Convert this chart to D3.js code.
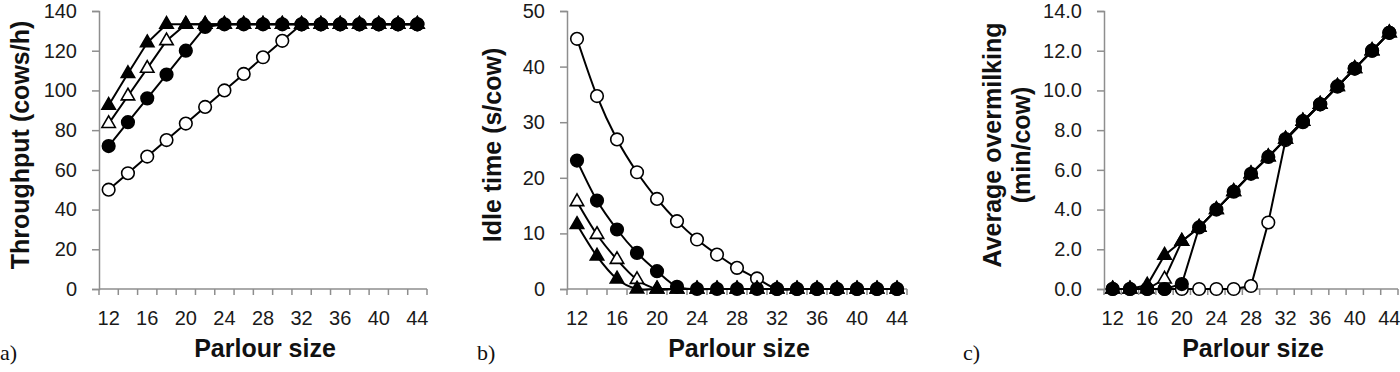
<!DOCTYPE html>
<html>
<head>
<meta charset="utf-8">
<script src="https://cdn.jsdelivr.net/npm/d3@7"></script>
<style>
  body { margin: 0; background: #fff; }
  svg { display: block; }
  .tick text { font-family: "Liberation Sans", Arial, sans-serif; font-size: 20px; fill: #1a1a1a; }
  .axis-title { font-family: "Liberation Sans", Arial, sans-serif; font-weight: bold; font-size: 25px; fill: #111; }
  .panel-tag { font-family: "Liberation Serif", "Times New Roman", serif; font-size: 22px; fill: #111; }
</style>
</head>
<body>
<div id="chart"></div>
<script>
// parlour sizes (categories)
const sizes = [12, 14, 16, 18, 20, 22, 24, 26, 28, 30, 32, 34, 36, 38, 40, 42, 44];
const sizeLabels = [12, 16, 20, 24, 28, 32, 36, 40, 44];

// a) throughput (cows/h)
const thrOpenCircle = [50, 58.3, 66.7, 75, 83.3, 91.7, 100, 108.3, 116.7, 125, 133.3, 133.3, 133.3, 133.3, 133.3, 133.3, 133.3];
const thrOpenTri    = [83.3, 97.2, 111.1, 125, 133.3, 133.3, 133.3, 133.3, 133.3, 133.3, 133.3, 133.3, 133.3, 133.3, 133.3, 133.3, 133.3];
const thrFilledTri  = [92.5, 108.5, 124, 133.3, 133.3, 133.3, 133.3, 133.3, 133.3, 133.3, 133.3, 133.3, 133.3, 133.3, 133.3, 133.3, 133.3];
const thrFilledCirc = [72, 84, 96, 108, 120, 132, 133.3, 133.3, 133.3, 133.3, 133.3, 133.3, 133.3, 133.3, 133.3, 133.3, 133.3];

// b) idle time (s/cow)
const idleOpenCircle = [45, 34.7, 26.9, 21, 16.2, 12.2, 8.9, 6.2, 3.8, 1.9, 0, 0, 0, 0, 0, 0, 0];
const idleOpenTri    = [15.7, 9.8, 5.3, 1.7, 0, 0, 0, 0, 0, 0, 0, 0, 0, 0, 0, 0, 0];
const idleFilledTri  = [11.6, 5.9, 1.8, 0, 0, 0, 0, 0, 0, 0, 0, 0, 0, 0, 0, 0, 0];
const idleFilledCirc = [23.1, 15.9, 10.7, 6.5, 3.2, 0.4, 0, 0, 0, 0, 0, 0, 0, 0, 0, 0, 0];

// c) average overmilking (min/cow)
const overOpenCircle = [0, 0, 0, 0, 0, 0, 0, 0, 0.15, 3.35, 7.5, 8.4, 9.3, 10.2, 11.1, 12.0, 12.9];
const overOpenTri    = [0, 0, 0, 0.5, 2.4, 3.1, 4.0, 4.9, 5.8, 6.65, 7.55, 8.45, 9.3, 10.2, 11.1, 12.0, 12.9];
const overFilledTri  = [0, 0, 0.2, 1.7, 2.4, 3.1, 4.0, 4.9, 5.8, 6.65, 7.55, 8.45, 9.3, 10.2, 11.1, 12.0, 12.9];
const overFilledCirc = [0, 0, 0, 0, 0.25, 3.1, 4.0, 4.9, 5.8, 6.65, 7.55, 8.45, 9.3, 10.2, 11.1, 12.0, 12.9];

const yTicksA = [0, 20, 40, 60, 80, 100, 120, 140];
const yTicksB = [0, 10, 20, 30, 40, 50];
const yTicksC = [0, 2, 4, 6, 8, 10, 12, 14];

const W = 1400, H = 372;
const svg = d3.select('#chart').append('svg').attr('width', W).attr('height', H);

const AXIS = '#8e8e8e';

function drawPanel(p) {
  const g = svg.append('g');
  const x = d3.scaleBand().domain(sizes).range([p.x0, p.x1]).padding(0);
  const y = d3.scaleLinear().domain([0, p.ymax]).range([p.y1, p.y0]);

  // y axis
  const ya = g.append('g').attr('transform', `translate(${p.x0},0)`)
    .call(d3.axisLeft(y).tickValues(p.yTicks).tickSize(7).tickPadding(15).tickFormat(p.fmt));
  ya.selectAll('path, line').attr('stroke', AXIS).attr('stroke-width', 1.5);

  // x axis: boundary ticks between categories, labels every other category
  const edges = sizes.map(s => x(s)).concat([x(sizes[sizes.length - 1]) + x.step()]);
  g.append('line').attr('x1', p.x0).attr('x2', p.x1).attr('y1', p.y1).attr('y2', p.y1)
    .attr('stroke', AXIS).attr('stroke-width', 1.5);
  g.selectAll('.edge').data(edges).join('line').attr('class', 'edge')
    .attr('x1', d => d).attr('x2', d => d).attr('y1', p.y1).attr('y2', p.y1 + 6)
    .attr('stroke', AXIS).attr('stroke-width', 1.5);
  const xa = g.append('g').attr('transform', `translate(0,${p.y1})`)
    .call(d3.axisBottom(x).tickValues(sizeLabels).tickSize(0).tickPadding(22));
  xa.select('.domain').remove();

  // titles
  g.append('text').attr('class', 'axis-title').attr('text-anchor', 'middle')
    .attr('x', (p.x0 + p.x1) / 2 + 2).attr('y', 357).text('Parlour size');
  p.ytitle.forEach((t, i) => {
    g.append('text').attr('class', 'axis-title').attr('text-anchor', 'middle')
      .attr('transform', `translate(${p.ytx[i]},${p.yty}) rotate(-90)`).text(t);
  });
  g.append('text').attr('class', 'panel-tag').attr('x', p.tagX).attr('y', 360).text(p.tag);

  const line = d3.line()
    .x((d, i) => x(sizes[i]) + x.bandwidth() / 2)
    .y(d => y(d))
    .curve(p.smooth ? d3.curveCatmullRom.alpha(0) : d3.curveLinear);

  const tri = d3.symbol().type(d3.symbolTriangle).size(78);

  p.series.forEach(s => {
    g.append('path').datum(s.values).attr('d', line)
      .attr('fill', 'none').attr('stroke', '#000').attr('stroke-width', 2);
    const m = g.selectAll(null).data(s.values).join(s.shape === 'circle' ? 'circle' : 'path');
    if (s.shape === 'circle') {
      m.attr('cx', (d, i) => x(sizes[i]) + x.bandwidth() / 2).attr('cy', d => y(d)).attr('r', 6.3);
    } else {
      m.attr('d', tri).attr('transform', (d, i) => `translate(${x(sizes[i]) + x.bandwidth() / 2},${y(d)})`);
    }
    m.attr('fill', s.filled ? '#000' : '#fff').attr('stroke', '#000').attr('stroke-width', 1.6);
  });
}

function series(open, openTri, filledTri, filledCirc) {
  return [
    { values: open, shape: 'circle', filled: false },
    { values: openTri, shape: 'tri', filled: false },
    { values: filledTri, shape: 'tri', filled: true },
    { values: filledCirc, shape: 'circle', filled: true }
  ];
}

drawPanel({
  x0: 99, x1: 427, y0: 11, y1: 289, ymax: 140, yTicks: yTicksA, fmt: d3.format('d'),
  ytitle: ['Throughput (cows/h)'], ytx: [29], yty: 145, tag: 'a)', tagX: 0, smooth: false,
  series: series(thrOpenCircle, thrOpenTri, thrFilledTri, thrFilledCirc)
});
drawPanel({
  x0: 567, x1: 907, y0: 11, y1: 289, ymax: 50, yTicks: yTicksB, fmt: d3.format('d'),
  ytitle: ['Idle time (s/cow)'], ytx: [501], yty: 145, tag: 'b)', tagX: 477, smooth: true,
  series: series(idleOpenCircle, idleOpenTri, idleFilledTri, idleFilledCirc)
});
drawPanel({
  x0: 1104, x1: 1398, y0: 11, y1: 289, ymax: 14, yTicks: yTicksC, fmt: d3.format('.1f'),
  ytitle: ['Average overmilking', '(min/cow)'], ytx: [1001, 1030], yty: 145, tag: 'c)', tagX: 963, smooth: false,
  series: series(overOpenCircle, overOpenTri, overFilledTri, overFilledCirc)
});
</script>
</body>
</html>
